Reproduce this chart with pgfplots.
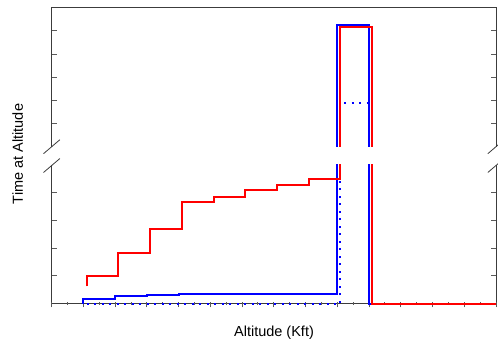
\documentclass[border=0pt]{standalone}
\usepackage{fontspec}
\setmainfont{Liberation Sans}
\usepackage{pgfplots}
\pgfplotsset{compat=1.18}
\definecolor{pblue}{RGB}{0,0,255}
\definecolor{pred}{RGB}{255,0,0}
\definecolor{axc}{RGB}{60,60,60}
\definecolor{tkc}{RGB}{90,90,90}

\pgfplotstableread{
x y
1 0
1 0.16
2 0.16
2 0.28
3 0.28
3 0.30
4 0.30
4 0.34
5 0.34
5 0.35
9 0.35
9 15.27
10 15.27
10 0
14 0
}\blueSolid

\pgfplotstableread{
x y
1.1 0
9.1 0
9.1 11.87
10.1 11.87
10.1 0
14 0
}\blueDotted

\pgfplotstableread{
x y
1.1 0.62
1.1 0.99
2.1 0.99
2.1 1.81
3.1 1.81
3.1 2.69
4.1 2.69
4.1 3.65
5.1 3.65
5.1 3.86
6.1 3.86
6.1 4.10
7.1 4.10
7.1 4.28
8.1 4.28
8.1 4.48
9.1 4.48
9.1 15.18
10.1 15.18
10.1 0
14 0
}\redSolid

\pgfplotsset{
  brk/.style={
    scale only axis, width=444.3pt,
    xmin=0, xmax=14,
    axis line style={draw=none},
    tick align=inside,
    major tick length=5pt, minor tick length=3pt,
    every tick/.style={tkc, line width=1pt},
    xticklabels={}, yticklabels={},
    ytick pos=both,
  },
  sol/.style={line width=2pt},
  dot/.style={line width=2pt, dash pattern=on 2pt off 5.5pt},
}

\begin{document}
\begin{tikzpicture}[x=1pt,y=1pt]
\path[use as bounding box] (0,0) rectangle (498,339);

% frames (drawn first, plots over them)
\draw[axc, line width=1pt] (51.7,174) -- (51.7,35.3) -- (496,35.3) -- (496,174);
\draw[axc, line width=1pt] (51.7,192.3) -- (51.7,331.3) -- (496,331.3) -- (496,192.3);

% bottom panel
\begin{axis}[brk, name=lo, at={(51.7pt,34.0pt)}, anchor=south west,
  height=140pt,
  ymin=-0.047, ymax=5, ytick={1,2,3,4},
  xtick={0,...,14}, minor xtick={0.5,1.5,...,13.5}, xtick pos=left,
  every major x tick/.append style={yshift=-2.5pt},
]
\addplot[sol, pblue] table {\blueSolid};
\addplot[dot, pblue] table {\blueDotted};
\addplot[sol, pred] table {\redSolid};
\end{axis}

% top panel
\begin{axis}[brk, name=hi, at={(51.7pt,192.3pt)}, anchor=south west,
  height=139pt,
  ymin=10, ymax=16, ytick={11,12,13,14,15},
  xtick=\empty, minor xtick={0.5,1.5,...,13.5}, xtick pos=right,
]
\addplot[sol, pblue] table {\blueSolid};
\addplot[dot, pblue] table {\blueDotted};
\addplot[sol, pred] table {\redSolid};
\end{axis}

% break marks
\draw[axc, line width=0.8pt] (43.5,185.3) -- (59.9,199.3);
\draw[axc, line width=0.8pt] (43.5,166.5) -- (59.9,180.5);
\draw[axc, line width=0.8pt] (487.8,185.3) -- (504.2,199.3);
\draw[axc, line width=0.8pt] (487.8,166.5) -- (504.2,180.5);

% labels
\node[anchor=base, font=\fontsize{14.5}{17}\selectfont, inner sep=0pt] at (274,2.5) {Altitude (Kft)};
\node[anchor=base, rotate=90, font=\fontsize{14.5}{17}\selectfont, inner sep=0pt] at (23,185) {Time at Altitude};
\end{tikzpicture}
\end{document}
